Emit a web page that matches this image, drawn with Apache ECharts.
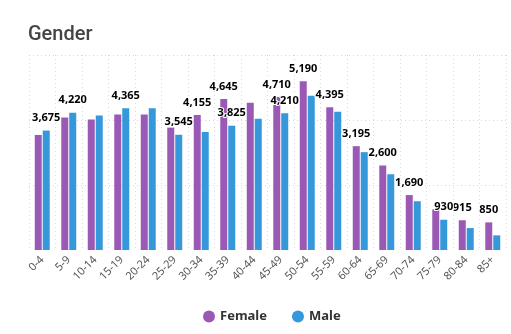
<!DOCTYPE html>
<html>
<head>
<meta charset="utf-8">
<script src="https://cdn.jsdelivr.net/npm/echarts@6/dist/echarts.min.js"></script>
<style>html,body{margin:0;padding:0;background:#fff;}#c{width:511px;height:334px;}</style>
</head>
<body>
<div id="c"></div>
<script>
const categories = ['0-4','5-9','10-14','15-19','20-24','25-29','30-34','35-39','40-44','45-49','50-54','55-59','60-64','65-69','70-74','75-79','80-84','85+'];
const female = [3540, 4075, 4015, 4170, 4170, 3765, 4155, 4645, 4530, 4710, 5190, 4395, 3195, 2600, 1690, 1250, 915, 850];
const male = [3675, 4220, 4140, 4365, 4360, 3545, 3630, 3825, 4035, 4210, 4750, 4255, 3010, 2330, 1500, 930, 675, 450];
const femaleLabeled = [6, 7, 9, 10, 11, 12, 13, 14, 16, 17];
const maleLabeled = [0, 1, 3, 5, 7, 9, 15];
const yTicks = [0, 2000, 4000, 6000];

function toData(vals, labeled) {
  return vals.map((v, i) => ({ value: v, label: { show: labeled.indexOf(i) >= 0 } }));
}
const labelStyle = {
  position: 'top', distance: 7,
  fontFamily: 'Noto Sans', fontWeight: 'bold', fontSize: 11, color: '#000',
  textBorderColor: '#fff', textBorderWidth: 2,
  formatter: p => p.value.toLocaleString('en-US')
};
const chart = echarts.init(document.getElementById('c'), null, { renderer: 'canvas' });
chart.setOption({
  animation: false,
  title: { text: 'Gender', left: 23, top: 20, textStyle: { fontFamily: 'Roboto', fontWeight: 500, fontSize: 20, color: '#444' } },
  legend: {
    left: 198, top: 305, itemWidth: 12, itemHeight: 12, itemGap: 25, icon: 'circle',
    textStyle: { fontFamily: 'Noto Sans', fontWeight: 'bold', fontSize: 13, color: '#333' },
    data: ['Female', 'Male']
  },
  grid: { left: 29, right: 5, top: 55, bottom: 84, containLabel: false },
  xAxis: {
    type: 'category', data: categories, boundaryGap: true,
    axisLine: { show: false }, axisTick: { show: false },
    axisLabel: { rotate: 45, fontSize: 11, color: '#555', margin: 8, interval: 0, fontFamily: 'Noto Sans' },
    splitLine: { show: true, lineStyle: { type: [1, 3], color: '#d8d8d8', width: 1 } }
  },
  yAxis: {
    type: 'value', min: yTicks[0], max: yTicks[yTicks.length - 1], interval: yTicks[1] - yTicks[0],
    axisLine: { show: false }, axisTick: { show: false }, axisLabel: { show: false },
    splitLine: { show: true, showMinLine: false, lineStyle: { type: [1, 3], color: '#d8d8d8', width: 1 } }
  },
  series: [
    { name: 'Female', type: 'bar', data: toData(female, femaleLabeled), barWidth: 7, barGap: '14%', itemStyle: { color: '#9B59B6' }, label: labelStyle },
    { name: 'Male', type: 'bar', data: toData(male, maleLabeled), barWidth: 7, barGap: '14%', itemStyle: { color: '#3498DB' }, label: labelStyle }
  ]
});
</script>
</body>
</html>
